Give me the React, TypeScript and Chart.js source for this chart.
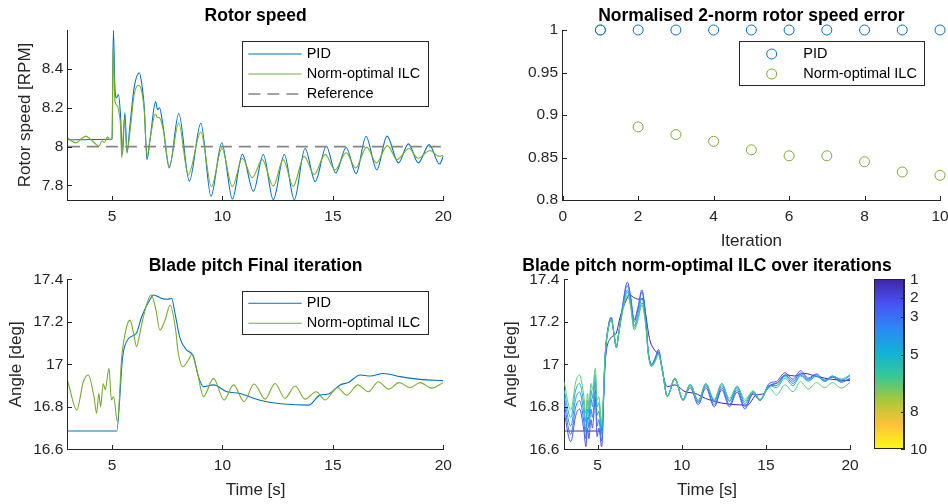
import React, { useEffect, useRef } from 'react';
import { Chart, registerables } from 'chart.js';

Chart.register(...registerables);

// ---------------- data ----------------
// Rotor speed (top-left)
const ROTOR_PID_T = [3, 4.98, 5.0, 5.06, 5.13, 5.2, 5.29, 5.38, 5.47, 5.58,
  5.68, 5.8, 6.0, 6.23, 6.35, 6.46, 6.58, 6.73, 6.97, 7.06,
  7.15, 7.3, 7.59, 8.02, 8.5, 9.02, 9.48, 9.97, 10.45, 10.9,
  11.4, 11.85, 12.3, 12.8, 13.25, 13.74, 14.2, 14.7, 15.13, 15.6,
  16.05, 16.5, 16.99, 17.45, 17.97, 18.42, 18.87, 19.36, 19.83, 20];
const ROTOR_PID_V = [8.035, 8.038, 8.04, 8.6, 8.303, 8.251, 8.268, 8.165, 7.959, 8.174,
  7.967, 8.096, 8.303, 8.38, 8.32, 8.2, 7.933, 8.045, 8.23, 8.19,
  8.2, 8.113, 7.89, 8.17, 7.822, 8.12, 7.745, 8.02, 7.73, 7.96,
  7.77, 7.959, 7.727, 7.959, 7.727, 7.99, 7.82, 8.002, 7.864, 7.995,
  7.86, 8.052, 7.88, 8.054, 7.916, 8.014, 7.916, 8.01, 7.91, 7.95];
const ROTOR_ILC_T = [3, 3.15, 3.37, 3.6, 3.82, 4.0, 4.27, 4.4, 4.55, 4.65,
  4.8, 4.9, 5.0, 5.05, 5.13, 5.24, 5.33, 5.38, 5.44, 5.56,
  5.68, 5.83, 6.0, 6.2, 6.35, 6.46, 6.58, 6.73, 6.96, 7.06,
  7.15, 7.33, 7.59, 8.02, 8.45, 9.02, 9.5, 9.97, 10.45, 10.9,
  11.35, 11.8, 12.3, 12.75, 13.2, 13.7, 14.15, 14.65, 15.1, 15.6,
  16.03, 16.53, 16.97, 17.47, 17.9, 18.45, 18.85, 19.4, 19.8, 20];
const ROTOR_ILC_V = [8.045, 8.03, 8.019, 8.04, 8.054, 8.04, 8.012, 8.002, 8.03, 8.02,
  8.05, 8.036, 8.04, 8.534, 8.234, 8.21, 8.165, 8.113, 7.942, 8.148,
  7.976, 8.096, 8.268, 8.316, 8.28, 8.18, 7.95, 8.045, 8.168, 8.15,
  8.148, 8.08, 7.9, 8.12, 7.854, 8.075, 7.794, 7.99, 7.794, 7.94,
  7.84, 7.933, 7.796, 7.933, 7.796, 7.95, 7.856, 7.96, 7.88, 7.968,
  7.89, 7.997, 7.916, 8.005, 7.933, 7.99, 7.94, 7.98, 7.95, 7.955];
const REF_T = [3, 20];
const REF_V = [8, 8];

// Normalised error (top-right)
const ITERATIONS = [1, 2, 3, 4, 5, 6, 7, 8, 9, 10];
const ERR_PID = [1, 1, 1, 1, 1, 1, 1, 1, 1, 1];
const ERR_ILC = [1, 0.886, 0.877, 0.869, 0.859, 0.852, 0.852, 0.845, 0.833, 0.829];

// Blade pitch, PID (= iteration 1)
const PITCH_PID_T = [3, 5.21, 5.48, 5.74, 6.1, 6.34, 6.72, 6.87, 7.25, 7.5,
  7.7, 7.85, 8.08, 8.38, 8.68, 8.91, 9.14, 9.59, 10.2, 10.8,
  11.4, 12.0, 12.76, 13.9, 14.42, 14.8, 15.33, 15.7, 16.23, 16.69,
  17.29, 18.05, 18.95, 20];
const PITCH_PID_V = [16.686, 16.686, 17.036, 17.12, 17.146, 17.224, 17.306, 17.326, 17.31, 17.306,
  17.31, 17.24, 17.122, 17.067, 17.039, 16.942, 16.895, 16.903, 16.871, 16.863,
  16.84, 16.824, 16.813, 16.808, 16.855, 16.86, 16.903, 16.914, 16.95, 16.945,
  16.957, 16.942, 16.929, 16.923];

// Blade pitch, ILC iterations (shared time stamps)
const PITCH_ILC_T = [3, 3.4, 3.7, 3.92, 4.18, 4.3, 4.4, 4.48, 4.6, 4.69,
  4.77, 4.86, 4.97, 5.07, 5.24, 5.44, 5.66, 5.81, 5.96, 6.11,
  6.26, 6.42, 6.77, 6.96, 7.17, 7.4, 7.63, 7.86, 8.0, 8.2,
  8.46, 8.61, 8.84, 9.14, 9.59, 10.07, 10.5, 10.98, 11.43, 11.93,
  12.38, 12.83, 13.29, 13.74, 14.24, 14.65, 15.2, 15.63, 16.13, 16.61,
  17.06, 17.52, 18.0, 18.5, 18.95, 19.48, 20];
const PITCH_IT2_V = [16.78, 16.636, 16.76, 16.79, 16.69, 16.612, 16.7, 16.65, 16.74, 16.7,
  16.76, 16.84, 16.66, 16.7, 16.612, 17.03, 17.19, 17.22, 17.15, 17.08,
  17.15, 17.24, 17.386, 17.32, 17.21, 17.27, 17.35, 17.22, 17.07, 17.0,
  17.04, 17.07, 16.98, 16.85, 16.93, 16.83, 16.89, 16.81, 16.89, 16.8,
  16.88, 16.8, 16.87, 16.79, 16.86, 16.83, 16.91, 16.92, 16.96, 16.93,
  16.97, 16.935, 16.955, 16.925, 16.94, 16.92, 16.93];
const PITCH_IT3_V = [16.82, 16.67, 16.8, 16.83, 16.73, 16.65, 16.75, 16.7, 16.79, 16.75,
  16.8, 16.88, 16.71, 16.74, 16.64, 17.03, 17.19, 17.22, 17.15, 17.08,
  17.15, 17.24, 17.37, 17.31, 17.2, 17.26, 17.34, 17.21, 17.06, 17.0,
  17.03, 17.06, 16.98, 16.85, 16.93, 16.835, 16.9, 16.82, 16.9, 16.81,
  16.89, 16.81, 16.88, 16.8, 16.865, 16.83, 16.9, 16.91, 16.95, 16.92,
  16.96, 16.93, 16.95, 16.92, 16.94, 16.915, 16.935];
const PITCH_IT4_V = [16.85, 16.71, 16.84, 16.87, 16.77, 16.69, 16.79, 16.74, 16.84, 16.8,
  16.86, 16.92, 16.76, 16.78, 16.67, 17.03, 17.18, 17.21, 17.15, 17.08,
  17.15, 17.23, 17.35, 17.29, 17.18, 17.24, 17.31, 17.2, 17.06, 16.995,
  17.03, 17.055, 16.975, 16.848, 16.935, 16.835, 16.905, 16.825, 16.905, 16.825,
  16.9, 16.825, 16.89, 16.815, 16.87, 16.832, 16.9, 16.9, 16.945, 16.91,
  16.95, 16.925, 16.945, 16.92, 16.945, 16.925, 16.945];
const PITCH_IT5_V = [16.88, 16.75, 16.88, 16.91, 16.81, 16.73, 16.83, 16.77, 16.88, 16.84,
  16.9, 16.95, 16.8, 16.82, 16.7, 17.035, 17.18, 17.21, 17.15, 17.08,
  17.15, 17.225, 17.34, 17.28, 17.17, 17.22, 17.29, 17.19, 17.055, 16.99,
  17.025, 17.05, 16.975, 16.848, 16.935, 16.835, 16.905, 16.83, 16.91, 16.83,
  16.91, 16.83, 16.895, 16.825, 16.875, 16.835, 16.9, 16.89, 16.935, 16.9,
  16.945, 16.92, 16.945, 16.925, 16.945, 16.93, 16.95];
const PITCH_ILC_V = [16.918, 16.785, 16.918, 16.95, 16.848, 16.769, 16.863, 16.8, 16.91, 16.88,
  16.926, 16.981, 16.832, 16.848, 16.73, 17.036, 17.177, 17.208, 17.154, 17.083,
  17.146, 17.224, 17.326, 17.27, 17.161, 17.208, 17.279, 17.177, 17.052, 16.989,
  17.02, 17.047, 16.973, 16.848, 16.934, 16.832, 16.903, 16.824, 16.907, 16.836,
  16.91, 16.84, 16.898, 16.836, 16.871, 16.832, 16.891, 16.855, 16.903, 16.871,
  16.918, 16.883, 16.914, 16.89, 16.914, 16.888, 16.914];

// Axis ticks
const TIME_TICKS = [5, 10, 15, 20];
const ROTOR_TICKS = [7.8, 8, 8.2, 8.4];
const ITER_TICKS = [0, 2, 4, 6, 8, 10];
const ERR_TICKS = [0.8, 0.85, 0.9, 0.95, 1];
const PITCH_TICKS = [16.6, 16.8, 17, 17.2, 17.4];
const CBAR_TICKS = [1, 2, 3, 5, 8, 10];

// ---------------- styling ----------------
const FONT = "'Liberation Sans', Arial, Helvetica, sans-serif";
const AXC = '#262626';
const BLUE = '#0072BD';
const GREEN = '#77AC30';
const ITER_COLORS = ['#3e26a8', '#4852f4', '#3a72f3', '#2598e6', '#14b5cf', '#5ec877'];
const PARULA = ['#3e26a8', '#4852f4', '#2d87f7', '#11b1d6', '#37c897', '#abc739', '#fec338', '#f9fb15'];
const TICK_SIZE = 15.5;
const LABEL_SIZE = 17;
const TITLE_SIZE = 17.5;
const LEGEND_SIZE = 14.5;

Chart.defaults.font.family = FONT;
Chart.defaults.color = AXC;

const zip = (t: number[], v: number[]) => t.map((x, i) => ({ x, y: v[i] }));
const fmt = (v: any) => String(Math.round(Number(v) * 1000) / 1000);

function axis(o: {
  position: 'left' | 'bottom' | 'right';
  min: number; max: number; ticks: number[]; size: number; tickPad: number;
  title?: string; titlePad?: number; reverse?: boolean;
}) {
  const horiz = o.position === 'bottom';
  return {
    type: 'linear',
    position: o.position,
    min: o.min,
    max: o.max,
    reverse: !!o.reverse,
    afterBuildTicks: (s: any) => { s.ticks = o.ticks.map((v) => ({ value: v })); },
    afterFit: (s: any) => {
      if (horiz) s.height = o.size; else s.width = o.size;
      s.paddingLeft = 0; s.paddingRight = 0; s.paddingTop = 0; s.paddingBottom = 0;
    },
    grid: { display: false, drawTicks: false, drawOnChartArea: false },
    border: { display: true, color: AXC, width: 1 },
    ticks: { autoSkip: false, maxRotation: 0, minRotation: 0, padding: o.tickPad, color: AXC, font: { size: TICK_SIZE }, callback: fmt },
    title: o.title
      ? { display: true, text: o.title, color: AXC, font: { size: LABEL_SIZE },
          padding: horiz ? { top: 0, bottom: o.titlePad || 0 } : { top: o.titlePad || 0, bottom: 0 } }
      : { display: false },
  };
}

// inward tick marks (MATLAB style)
const inwardTicks = {
  id: 'inwardTicks',
  afterDraw(chart: any, _a: any, o: any) {
    if (!o || !o.len) return;
    const { ctx, chartArea } = chart;
    ctx.save();
    ctx.strokeStyle = AXC;
    ctx.lineWidth = 1;
    Object.values(chart.scales).forEach((s: any) => {
      if (!s.options.display) return;
      s.ticks.forEach((t: any) => {
        const p = Math.round(s.getPixelForValue(t.value)) + 0.5;
        ctx.beginPath();
        if (s.isHorizontal()) {
          const y0 = Math.round(chartArea.bottom);
          ctx.moveTo(p, y0); ctx.lineTo(p, y0 - o.len);
        } else if (s.position === 'right') {
          const x0 = Math.round(chartArea.right);
          ctx.moveTo(x0, p); ctx.lineTo(x0 - o.len, p);
        } else {
          const x0 = Math.round(chartArea.left);
          ctx.moveTo(x0, p); ctx.lineTo(x0 + o.len, p);
        }
        ctx.stroke();
      });
    });
    if (o.box) {
      ctx.strokeRect(Math.round(chartArea.left) + 0.5, Math.round(chartArea.top) + 0.5,
        Math.round(chartArea.right - chartArea.left) - 1, Math.round(chartArea.bottom - chartArea.top) - 1);
    }
    ctx.restore();
  },
};

// MATLAB style legend box
const mlLegend = {
  id: 'mlLegend',
  afterDraw(chart: any, _a: any, o: any) {
    if (!o || !o.w) return;
    const ctx = chart.ctx;
    ctx.save();
    ctx.fillStyle = '#ffffff';
    ctx.fillRect(o.x, o.y, o.w, o.h);
    ctx.strokeStyle = AXC;
    ctx.lineWidth = 1;
    ctx.strokeRect(Math.round(o.x) + 0.5, Math.round(o.y) + 0.5, Math.round(o.w), Math.round(o.h));
    chart.data.datasets.forEach((ds: any, i: number) => {
      const cy = o.row0 + i * o.rowH;
      ctx.strokeStyle = ds.borderColor;
      ctx.lineWidth = ds.borderWidth || 1;
      if (o.marker) {
        ctx.beginPath();
        ctx.arc(o.mx, cy, ds.pointRadius, 0, Math.PI * 2);
        ctx.stroke();
      } else {
        ctx.setLineDash(ds.borderDash || []);
        ctx.beginPath();
        ctx.moveTo(o.sx0, cy);
        ctx.lineTo(o.sx1, cy);
        ctx.stroke();
        ctx.setLineDash([]);
      }
      ctx.fillStyle = '#000';
      ctx.font = `${LEGEND_SIZE}px ${FONT}`;
      ctx.textAlign = 'left';
      ctx.textBaseline = 'middle';
      ctx.fillText(ds.label, o.tx, cy);
    });
    ctx.restore();
  },
};

// axes title centred over the axes box
const mlTitle = {
  id: 'mlTitle',
  afterDraw(chart: any, _a: any, o: any) {
    if (!o || !o.text) return;
    const { ctx, chartArea } = chart;
    ctx.save();
    ctx.font = `bold ${TITLE_SIZE}px ${FONT}`;
    ctx.fillStyle = '#000';
    ctx.textAlign = 'center';
    ctx.textBaseline = 'middle';
    ctx.fillText(o.text, (chartArea.left + chartArea.right) / 2, o.y);
    ctx.restore();
  },
};

const basePlugins = { legend: { display: false }, tooltip: { enabled: false } };
const lineDs = (label: string, t: number[], v: number[], color: string, order: number, extra: any = {}) => ({
  label, data: zip(t, v), borderColor: color, backgroundColor: color, borderWidth: 1.1,
  pointRadius: 0, fill: false, cubicInterpolationMode: 'monotone', order, ...extra,
});

function rotorConfig() {
  return {
    type: 'line',
    data: {
      datasets: [
        lineDs('PID', ROTOR_PID_T, ROTOR_PID_V, BLUE, 2),
        lineDs('Norm-optimal ILC', ROTOR_ILC_T, ROTOR_ILC_V, GREEN, 1),
        lineDs('Reference', REF_T, REF_V, '#858585', 0, { borderDash: [12, 7], borderWidth: 1.7, cubicInterpolationMode: 'default' }),
      ],
    },
    options: {
      animation: false, responsive: false, events: [],
      layout: { padding: { left: 2.9, right: 504.7, top: 30, bottom: 274 } },
      scales: {
        x: axis({ position: 'bottom', min: 3, max: 20, ticks: TIME_TICKS, size: 30, tickPad: 7 }),
        y: axis({ position: 'left', min: 7.725, max: 8.6, ticks: ROTOR_TICKS, size: 65, tickPad: 4.6, title: 'Rotor speed [RPM]', titlePad: 12.6 }),
      },
      plugins: {
        ...basePlugins,
        mlTitle: { text: 'Rotor speed', y: 16 },
        mlLegend: { x: 242.3, y: 41, w: 186, h: 65, row0: 54, rowH: 20, sx0: 248.3, sx1: 301.7, tx: 306.7 },
        inwardTicks: { len: 4 },
      },
    },
    plugins: [inwardTicks, mlLegend, mlTitle],
  };
}

function errorConfig() {
  const ds = (label: string, v: number[], color: string) => ({
    label, data: zip(ITERATIONS, v), borderColor: color, backgroundColor: 'rgba(0,0,0,0)',
    borderWidth: 1, pointRadius: 5, pointStyle: 'circle', clip: false, showLine: false,
  });
  return {
    type: 'scatter',
    data: { datasets: [ds('PID', ERR_PID, BLUE), ds('Norm-optimal ILC', ERR_ILC, GREEN)] },
    options: {
      animation: false, responsive: false, events: [],
      layout: { padding: { left: 502.7, right: 8, top: 30, bottom: 249 } },
      scales: {
        x: axis({ position: 'bottom', min: 0, max: 10, ticks: ITER_TICKS, size: 55, tickPad: 7, title: 'Iteration', titlePad: 3.8 }),
        y: axis({ position: 'left', min: 0.8, max: 1, ticks: ERR_TICKS, size: 60, tickPad: 4.6 }),
      },
      plugins: {
        ...basePlugins,
        mlTitle: { text: 'Normalised 2-norm rotor speed error', y: 16 },
        mlLegend: { x: 739, y: 41, w: 185, h: 44, row0: 54, rowH: 20, marker: true, mx: 771.7, tx: 803.3 },
        inwardTicks: { len: 4 },
      },
    },
    plugins: [inwardTicks, mlLegend, mlTitle],
  };
}

function pitchFinalConfig() {
  return {
    type: 'line',
    data: {
      datasets: [
        lineDs('PID', PITCH_PID_T, PITCH_PID_V, BLUE, 2),
        lineDs('Norm-optimal ILC', PITCH_ILC_T, PITCH_ILC_V, GREEN, 1),
      ],
    },
    options: {
      animation: false, responsive: false, events: [],
      layout: { padding: { left: 2.9, right: 504.7, top: 279.3, bottom: 2.7 } },
      scales: {
        x: axis({ position: 'bottom', min: 3, max: 20, ticks: TIME_TICKS, size: 52, tickPad: 7, title: 'Time [s]', titlePad: 1.1 }),
        y: axis({ position: 'left', min: 16.6, max: 17.4, ticks: PITCH_TICKS, size: 65, tickPad: 4.6, title: 'Angle [deg]', titlePad: 3.6 }),
      },
      plugins: {
        ...basePlugins,
        mlTitle: { text: 'Blade pitch Final iteration', y: 266 },
        mlLegend: { x: 242.3, y: 290.7, w: 186, h: 42.6, row0: 303.3, rowH: 20, sx0: 248.3, sx1: 301.7, tx: 306.7 },
        inwardTicks: { len: 4 },
      },
    },
    plugins: [inwardTicks, mlLegend, mlTitle],
  };
}

function pitchIterConfig() {
  const series = [
    { t: PITCH_PID_T, v: PITCH_PID_V },
    { t: PITCH_ILC_T, v: PITCH_IT2_V },
    { t: PITCH_ILC_T, v: PITCH_IT3_V },
    { t: PITCH_ILC_T, v: PITCH_IT4_V },
    { t: PITCH_ILC_T, v: PITCH_IT5_V },
    { t: PITCH_ILC_T, v: PITCH_ILC_V },
  ];
  return {
    type: 'line',
    data: {
      datasets: series.map((s, i) => lineDs(`Iteration ${i + 1}`, s.t, s.v, ITER_COLORS[i], series.length - i, { borderWidth: 1 })),
    },
    options: {
      animation: false, responsive: false, events: [],
      layout: { padding: { left: 499, right: 98, top: 279.3, bottom: 2.7 } },
      scales: {
        x: axis({ position: 'bottom', min: 3, max: 20, ticks: TIME_TICKS, size: 52, tickPad: 7, title: 'Time [s]', titlePad: 1.1 }),
        y: axis({ position: 'left', min: 16.6, max: 17.4, ticks: PITCH_TICKS, size: 65, tickPad: 4.6, title: 'Angle [deg]', titlePad: 2.5 }),
      },
      plugins: {
        ...basePlugins,
        mlTitle: { text: 'Blade pitch norm-optimal ILC over iterations', y: 266 },
        inwardTicks: { len: 4 },
      },
    },
    plugins: [inwardTicks, mlTitle],
  };
}

function colorbarConfig() {
  return {
    type: 'bar',
    data: {
      labels: ['iteration'],
      datasets: [{
        label: 'Iteration',
        data: [[CBAR_TICKS[0], CBAR_TICKS[CBAR_TICKS.length - 1]]],
        borderWidth: 0,
        barPercentage: 1,
        categoryPercentage: 1,
        backgroundColor: (c: any) => {
          const ch = c.chart;
          const s = ch.scales && ch.scales.y;
          if (!s || !ch.chartArea) return PARULA[0];
          const g = ch.ctx.createLinearGradient(0, s.getPixelForValue(1), 0, s.getPixelForValue(10));
          PARULA.forEach((col, i) => g.addColorStop(i / (PARULA.length - 1), col));
          return g;
        },
      }],
    },
    options: {
      animation: false, responsive: false, events: [],
      layout: { padding: { left: 874.3, right: 14, top: 279.3, bottom: 54.7 } },
      scales: {
        x: { type: 'category', display: false },
        y: axis({ position: 'right', min: 1, max: 10, ticks: CBAR_TICKS, size: 30, tickPad: 6, reverse: true }),
      },
      plugins: { ...basePlugins, inwardTicks: { len: 3, box: true } },
    },
    plugins: [inwardTicks],
  };
}

function Panel({ make }: { make: () => any }) {
  const ref = useRef<HTMLCanvasElement>(null);
  useEffect(() => {
    if (!ref.current) return;
    const chart = new Chart(ref.current, make());
    return () => chart.destroy();
  }, [make]);
  return (
    <canvas
      ref={ref}
      width={948}
      height={504}
      style={{ position: 'absolute', left: 0, top: 0, width: 948, height: 504 }}
    />
  );
}

export default function App() {
  return (
    <div style={{ position: 'absolute', left: 0, top: 0, width: 948, height: 504, background: '#ffffff', overflow: 'hidden' }}>
      <Panel make={rotorConfig} />
      <Panel make={errorConfig} />
      <Panel make={pitchFinalConfig} />
      <Panel make={pitchIterConfig} />
      <Panel make={colorbarConfig} />
    </div>
  );
}
